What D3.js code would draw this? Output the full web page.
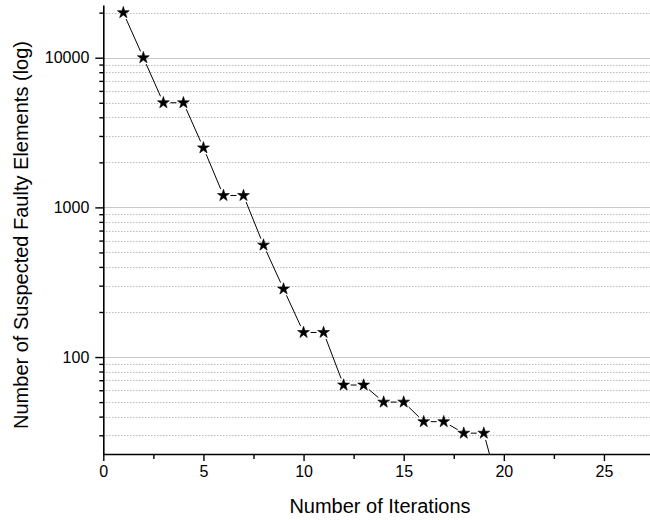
<!DOCTYPE html>
<html>
<head>
<meta charset="utf-8">
<script src="https://cdn.jsdelivr.net/npm/d3@7"></script>
<style>
  html, body { margin: 0; padding: 0; background: #fff; }
  svg { display: block; font-family: "Liberation Sans", Arial, sans-serif; }
</style>
</head>
<body>
<svg id="chart" width="650" height="520"></svg>
<script>
// Iteration number and the count of suspected faulty elements left after it
const iterations = [1, 2, 3, 4, 5, 6, 7, 8, 9, 10, 11, 12, 13, 14, 15, 16, 17, 18, 19, 20];
const suspects   = [20000, 10000, 5000, 5000, 2500, 1200, 1200, 560, 285, 146, 146, 65, 65, 50, 50, 37, 37, 31, 31, 10];

const xMajorTicks = [0, 5, 10, 15, 20, 25];
const xMinorTicks = [2.5, 7.5, 12.5, 17.5, 22.5];
const yMajorTicks = [100, 1000, 10000];
const yLabelTicks = ["100", "1000", "10000"];

const xTitle = "Number of Iterations";
const yTitle = "Number of Suspected Faulty Elements (log)";

const margin = { left: 103.3, right: 0, top: 5, bottom: 66 };
const W = 650, H = 520;
const svg = d3.select("#chart");

const x = d3.scaleLinear().domain([0, 27.3]).range([margin.left, W - margin.right]);
const y = d3.scaleLog().domain([22.5, 22500]).range([H - margin.bottom, margin.top]);

// minor log ticks: 2..9 times each decade, inside the y domain
const yMinorTicks = [];
[10, 100, 1000, 10000].forEach(d => {
  for (let m = 2; m <= 9; m++) {
    const v = d * m;
    if (v >= y.domain()[0] && v <= y.domain()[1]) yMinorTicks.push(v);
  }
});

// grid lines
const grid = svg.append("g");
grid.selectAll("line.minor").data(yMinorTicks).join("line")
  .attr("x1", x.range()[0]).attr("x2", x.range()[1])
  .attr("y1", d => Math.round(y(d)) + 0.5).attr("y2", d => Math.round(y(d)) + 0.5)
  .attr("stroke", "#9a9a9a").attr("stroke-width", 1).attr("stroke-dasharray", "1,2");
grid.selectAll("line.major").data(yMajorTicks).join("line")
  .attr("x1", x.range()[0]).attr("x2", x.range()[1])
  .attr("y1", d => Math.round(y(d)) + 0.5).attr("y2", d => Math.round(y(d)) + 0.5)
  .attr("stroke", "#c8c8c8").attr("stroke-width", 1.2);

// data line and star markers, clipped to the plot area
svg.append("clipPath").attr("id", "plot-clip").append("rect")
  .attr("x", x.range()[0]).attr("y", y.range()[1])
  .attr("width", x.range()[1] - x.range()[0]).attr("height", y.range()[0] - y.range()[1]);

const pts = iterations.map((it, i) => ({ px: x(it), py: y(suspects[i]) }));
const plot = svg.append("g").attr("clip-path", "url(#plot-clip)");

// connecting segments, leaving a small gap around each symbol
const gap = 7;
const segs = d3.pairs(pts).map(([a, b]) => {
  const dx = b.px - a.px, dy = b.py - a.py, len = Math.hypot(dx, dy);
  const ux = dx / len, uy = dy / len;
  return { x1: a.px + ux * gap, y1: a.py + uy * gap, x2: b.px - ux * gap, y2: b.py - uy * gap };
});
plot.selectAll("line.seg").data(segs).join("line")
  .attr("x1", d => d.x1).attr("y1", d => d.y1)
  .attr("x2", d => d.x2).attr("y2", d => d.y2)
  .attr("stroke", "#000").attr("stroke-width", 1);

const star = d3.symbol().type(d3.symbolStar).size(44);
plot.selectAll("path.star").data(pts).join("path")
  .attr("class", "star")
  .attr("d", star)
  .attr("transform", d => `translate(${d.px},${d.py})`)
  .attr("fill", "#000").attr("stroke", "#000").attr("stroke-width", 0.6);

// x axis
const xAxisG = svg.append("g").attr("transform", `translate(0,${y.range()[0]})`);
xAxisG.call(d3.axisBottom(x).tickValues(xMajorTicks).tickSize(7).tickSizeOuter(0).tickPadding(5));
xAxisG.append("g").call(d3.axisBottom(x).tickValues(xMinorTicks).tickSize(5).tickFormat("").tickSizeOuter(0))
  .select(".domain").remove();

// y axis
const yAxisG = svg.append("g").attr("transform", `translate(${x.range()[0]},0)`);
yAxisG.call(d3.axisLeft(y).tickValues(yMajorTicks).tickSize(8).tickSizeOuter(0).tickPadding(6)
  .tickFormat((d, i) => yLabelTicks[i]));
yAxisG.append("g").call(d3.axisLeft(y).tickValues(yMinorTicks).tickSize(4).tickFormat("").tickSizeOuter(0))
  .select(".domain").remove();

svg.selectAll(".domain").attr("stroke", "#000").attr("stroke-width", 1.6);
svg.selectAll(".tick line").attr("stroke", "#000").attr("stroke-width", 1.4);
svg.selectAll(".tick text").attr("font-size", 16).attr("fill", "#000")
  .attr("font-family", "Liberation Sans, Arial, sans-serif");

// axis titles
svg.append("text")
  .attr("x", 380).attr("y", 513)
  .attr("text-anchor", "middle").attr("font-size", 20).attr("fill", "#000")
  .text(xTitle);

svg.append("text")
  .attr("transform", `translate(28,235) rotate(-90)`)
  .attr("text-anchor", "middle").attr("font-size", 20).attr("fill", "#000")
  .text(yTitle);
</script>
</body>
</html>
